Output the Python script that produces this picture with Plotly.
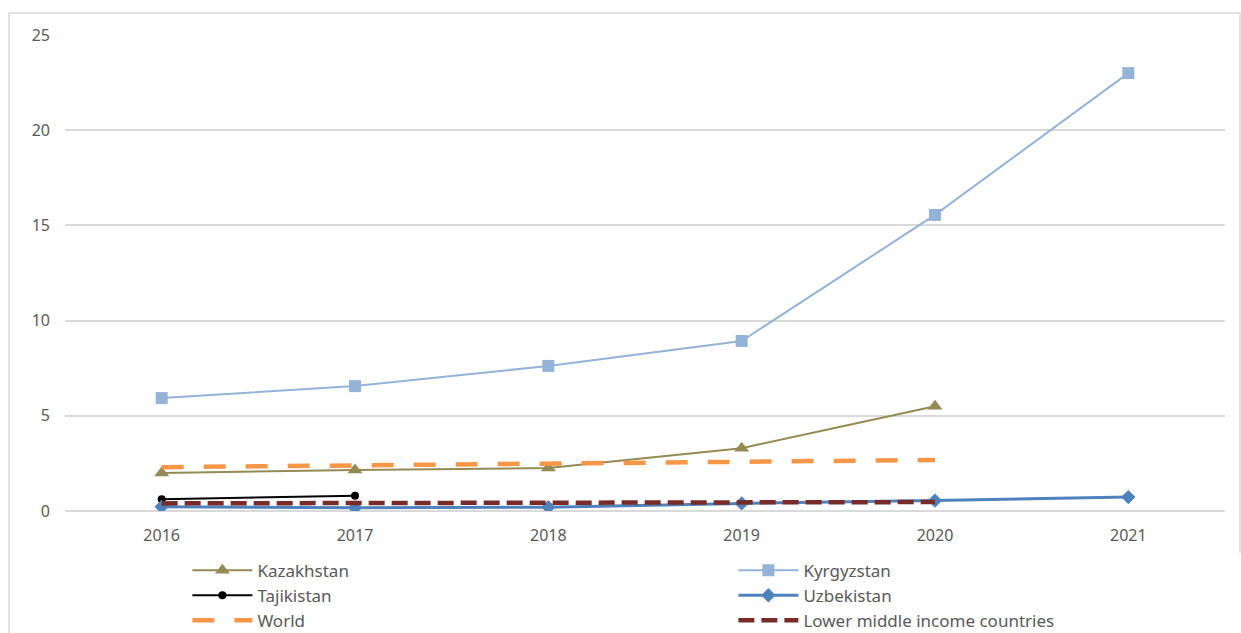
import plotly.graph_objects as go

years = ["2016", "2017", "2018", "2019", "2020", "2021"]

kazakhstan = [2.0, 2.15, 2.26, 3.3, 5.5, None]
kyrgyzstan = [5.93, 6.56, 7.62, 8.93, 15.55, 23.0]
tajikistan = [0.62, 0.8, None, None, None, None]
uzbekistan = [0.22, 0.17, 0.2, 0.4, 0.55, 0.73]
world = [2.3, 2.38, 2.5, 2.6, 2.68, None]
lower_middle = [0.4, 0.42, 0.43, 0.44, 0.47, None]

y_ticks = [0, 5, 10, 15, 20, 25]

FONT = "Noto Sans"
GREY_TEXT = "#595959"
GRID = "#d9d9d9"

fig = go.Figure()

fig.add_trace(go.Scatter(
    x=years, y=kazakhstan, name="Kazakhstan", mode="lines+markers",
    line=dict(color="#948A54", width=2),
    marker=dict(symbol="triangle-up", size=13, color="#948A54"),
))
fig.add_trace(go.Scatter(
    x=years, y=kyrgyzstan, name="Kyrgyzstan", mode="lines+markers",
    line=dict(color="#95B3D7", width=2),
    marker=dict(symbol="square", size=12, color="#95B3D7"),
))
fig.add_trace(go.Scatter(
    x=years, y=tajikistan, name="Tajikistan", mode="lines+markers",
    line=dict(color="#000000", width=2),
    marker=dict(symbol="circle", size=8, color="#000000"),
))
fig.add_trace(go.Scatter(
    x=years, y=uzbekistan, name="Uzbekistan", mode="lines+markers",
    line=dict(color="#4F81BD", width=3),
    marker=dict(symbol="diamond", size=11, color="#4F81BD"),
))
fig.add_trace(go.Scatter(
    x=years, y=world, name="World", mode="lines",
    line=dict(color="#F79646", width=4.5, dash="22px,20px"),
))
fig.add_trace(go.Scatter(
    x=years, y=lower_middle, name="Lower middle income countries", mode="lines",
    line=dict(color="#772C2A", width=4.5, dash="16px,7px"),
))

# light frame around the whole chart area
fig.add_shape(
    type="rect", xref="paper", yref="paper",
    x0=-0.0483, x1=1.0129, y0=-0.35, y1=1.046,
    line=dict(color=GRID, width=1.5), fillcolor="rgba(0,0,0,0)", layer="below",
)

fig.update_layout(
    width=1241, height=633,
    margin=dict(l=65, r=16, t=35, b=122, autoexpand=False),
    paper_bgcolor="white", plot_bgcolor="white",
    font=dict(family=FONT, color=GREY_TEXT, size=16),
    showlegend=True,
    legend=dict(
        orientation="h",
        xref="container", yref="container",
        x=0.151, y=0.127, xanchor="left", yanchor="top",
        entrywidth=471,
        font=dict(family=FONT, size=17, color=GREY_TEXT),
        itemwidth=60,
        traceorder="normal",
    ),
    xaxis=dict(
        type="category", range=[-0.5, 5.5],
        showgrid=False, zeroline=False, showline=False,
        ticks="", ticklabelstandoff=13, automargin=False,
        tickfont=dict(size=16, color=GREY_TEXT),
    ),
    yaxis=dict(
        range=[0, 25], tickvals=y_ticks,
        showgrid=True, gridcolor=GRID, gridwidth=1.5,
        zeroline=True, zerolinecolor=GRID, zerolinewidth=1.5,
        showline=False, ticks="", ticklabelstandoff=14, automargin=False,
        tickfont=dict(size=16, color=GREY_TEXT),
    ),
)

fig.write_html("out.html")
